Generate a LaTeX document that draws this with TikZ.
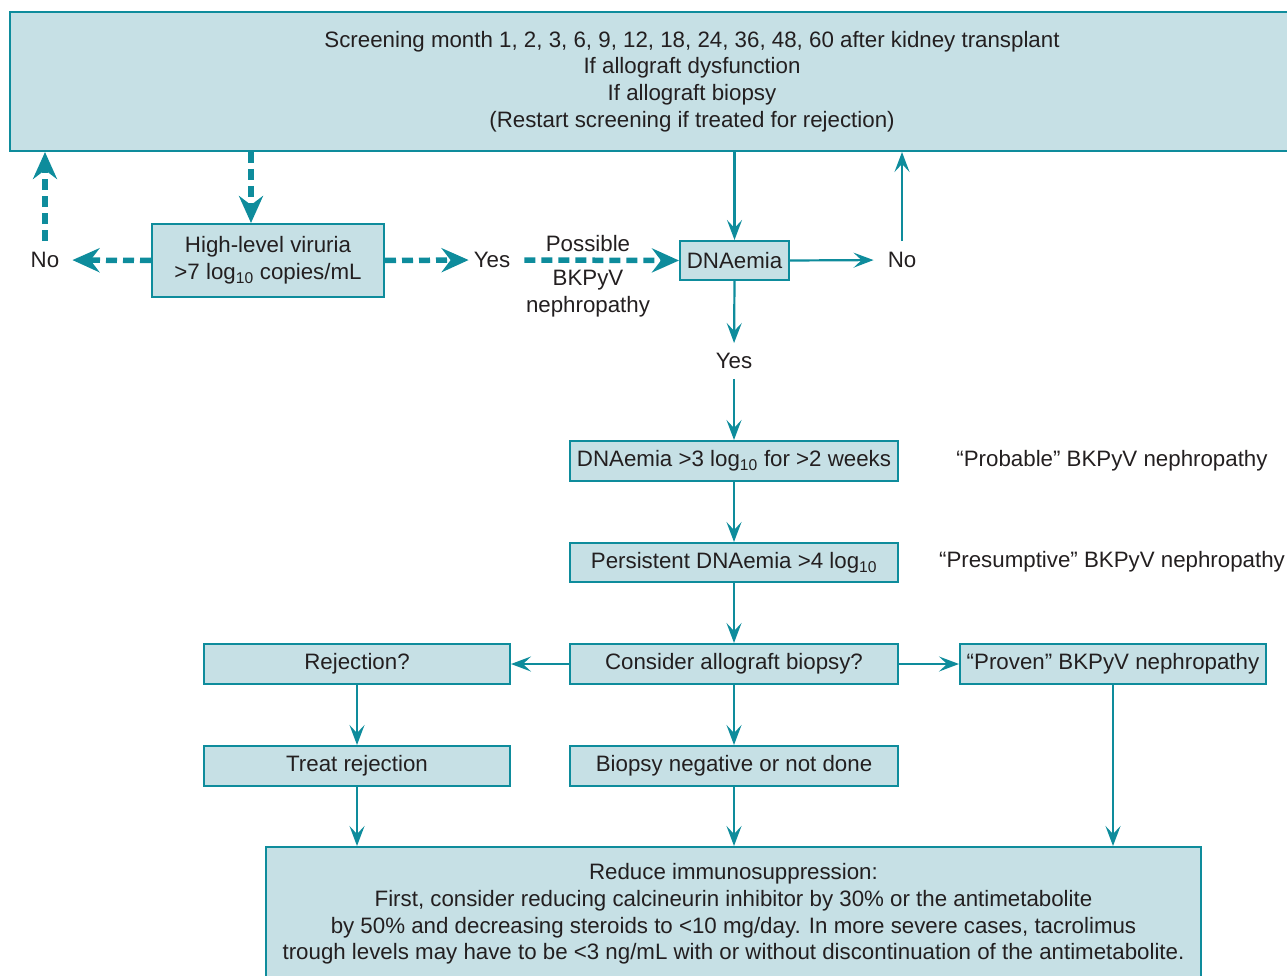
\documentclass[tikz,border=0pt]{standalone}
\usepackage{fontspec}
\setmainfont{Liberation Sans}
\usetikzlibrary{arrows.meta}
\definecolor{fillc}{HTML}{C6E0E5}
\definecolor{linec}{HTML}{0E8C9C}
\definecolor{txt}{HTML}{231F20}
\begin{document}
\begin{tikzpicture}[x=1pt,y=-1pt,
  font=\fontsize{22.3}{26.8}\selectfont, text=txt,
  box/.style={draw=linec, fill=fillc, line width=2pt, inner sep=0pt, align=center},
  arr/.style={draw=linec, line width=2.2pt, -{Stealth[length=20pt,width=15pt,inset=8pt]}},
  darr/.style={draw=linec, line width=5.5pt, dash pattern=on 11pt off 6pt, -{Stealth[length=27pt,width=24pt,inset=9pt]}},
  lbl/.style={inner sep=0pt, align=center}]
\useasboundingbox (0,0) rectangle (1287,976);
% boxes
\node[box, minimum width=1364, minimum height=139] (top) at (692,81.5)
  {Screening month 1, 2, 3, 6, 9, 12, 18, 24, 36, 48, 60 after kidney transplant\\
   If allograft dysfunction\\ If allograft biopsy\\ (Restart screening if treated for rejection)};
\node[box, minimum width=232, minimum height=73] (vir) at (268,260.5)
  {High-level viruria\\ >7 log\textsubscript{10} copies/mL};
\node[box, minimum width=109, minimum height=39] (dna) at (734.5,260.5) {DNAemia};
\node[box, minimum width=328, minimum height=40] (d3) at (734,461) {DNAemia >3 log\textsubscript{10} for >2 weeks};
\node[box, minimum width=328, minimum height=39] (d4) at (734,562.5) {Persistent DNAemia >4 log\textsubscript{10}};
\node[box, minimum width=328, minimum height=40] (cab) at (734,664) {Consider allograft biopsy?};
\node[box, minimum width=306, minimum height=40] (rej) at (357,664) {Rejection?};
\node[box, minimum width=306, minimum height=40] (prov) at (1113,664) {“Proven” BKPyV nephropathy};
\node[box, minimum width=306, minimum height=40] (treat) at (357,766) {Treat rejection};
\node[box, minimum width=328, minimum height=40] (neg) at (734,766) {Biopsy negative or not done};
\node[box, minimum width=935, minimum height=134, font=\fontsize{22.3}{26.6}\selectfont] (red) at (733.5,914)
  {Reduce immunosuppression:\\
   First, consider reducing calcineurin inhibitor by 30\% or the antimetabolite\\
   by 50\% and decreasing steroids to <10 mg/day. In more severe cases, tacrolimus\\
   trough levels may have to be <3 ng/mL with or without discontinuation of the antimetabolite.};
% labels
\node[lbl] (noL) at (45,260) {No};
\node[lbl] (yesM) at (492,260) {Yes};
\node[lbl] (poss) at (588,244) {Possible};
\node[lbl] (bk) at (588,294) {BKPyV\\ nephropathy};
\node[lbl] (noR) at (902,260) {No};
\node[lbl] (yesD) at (734,361) {Yes};
\node[lbl] (prob) at (1112,461) {“Probable” BKPyV nephropathy};
\node[lbl] (pres) at (1112,562) {“Presumptive” BKPyV nephropathy};
% dashed connectors
\coordinate (vtop) at ([xshift=-17pt]vir.north);
\draw[darr] (vtop |- top.south) -- (vtop);
\draw[darr, shorten >=13pt] (vir.west) -- (noL.east);
\draw[darr, shorten <=11pt] (noL.north) -- (noL |- top.south);
\draw[darr, shorten >=5pt] (vir.east) -- (yesM.west);
\draw[darr, shorten <=14pt] (yesM.east) -- (dna.west);
% solid connectors
\draw[arr] (dna |- top.south) -- (dna.north);
\draw[arr, shorten >=14pt] (dna.east) -- (noR.west);
\draw[arr, shorten <=11pt] (noR.north) -- (noR |- top.south);
\draw[arr, shorten >=10pt] (dna.south) -- (yesD.north);
\draw[arr, shorten <=10pt] (yesD.south) -- (d3.north);
\draw[arr] (d3.south) -- (d4.north);
\draw[arr] (d4.south) -- (cab.north);
\draw[arr] (cab.west) -- (rej.east);
\draw[arr] (cab.east) -- (prov.west);
\draw[arr] (rej.south) -- (treat.north);
\draw[arr] (cab.south) -- (neg.north);
\draw[arr] (treat.south) -- (treat.south |- red.north);
\draw[arr] (neg.south) -- (neg.south |- red.north);
\draw[arr] (prov.south) -- (prov.south |- red.north);
\end{tikzpicture}
\end{document}
